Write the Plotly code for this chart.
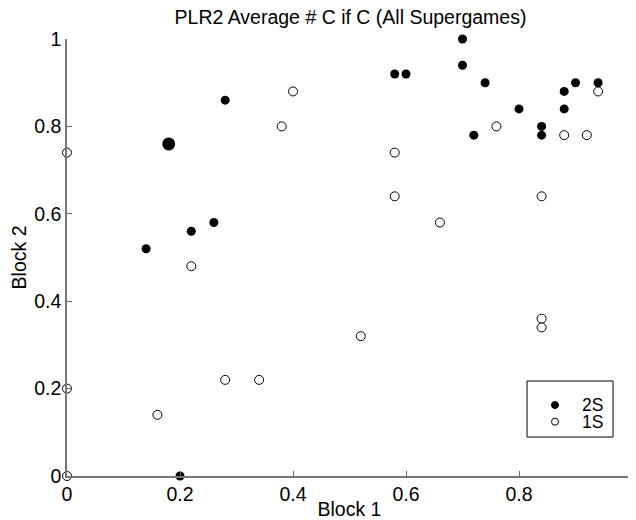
import plotly.graph_objects as go

# 2S (filled) series
x_2s = [0.14, 0.22, 0.26, 0.28, 0.20, 0.58, 0.60, 0.70, 0.70, 0.74, 0.72, 0.80, 0.84, 0.84, 0.88, 0.88, 0.90, 0.94]
y_2s = [0.52, 0.56, 0.58, 0.86, 0.00, 0.92, 0.92, 1.00, 0.94, 0.90, 0.78, 0.84, 0.80, 0.78, 0.88, 0.84, 0.90, 0.90]
# highlighted (large) 2S point
x_2s_big = [0.18]
y_2s_big = [0.76]

# 1S (open) series
x_1s = [0.00, 0.00, 0.00, 0.16, 0.22, 0.28, 0.34, 0.38, 0.40, 0.52, 0.58, 0.58, 0.66, 0.76, 0.84, 0.84, 0.84, 0.88, 0.92, 0.94]
y_1s = [0.74, 0.20, 0.00, 0.14, 0.48, 0.22, 0.22, 0.80, 0.88, 0.32, 0.74, 0.64, 0.58, 0.80, 0.64, 0.36, 0.34, 0.78, 0.78, 0.88]

tick_vals = [0, 0.2, 0.4, 0.6, 0.8, 1]
tick_text = ["0", "0.2", "0.4", "0.6", "0.8", "1"]
legend_names = ["2S", "1S"]

FONT = "Liberation Sans, Arial, sans-serif"
FS = 19.5
LFS = 17.5

fig = go.Figure()
fig.add_trace(go.Scatter(
    x=x_2s, y=y_2s, mode="markers", name=legend_names[0],
    marker=dict(color="black", size=9, line=dict(color="black", width=0)),
    cliponaxis=False,
))
fig.add_trace(go.Scatter(
    x=x_2s_big, y=y_2s_big, mode="markers", name=legend_names[0],
    marker=dict(color="black", size=13, line=dict(color="black", width=0)),
    cliponaxis=False,
))
fig.add_trace(go.Scatter(
    x=x_1s, y=y_1s, mode="markers", name=legend_names[1],
    marker=dict(color="white", size=9, line=dict(color="black", width=1)),
    cliponaxis=False,
))

axis_common = dict(
    range=[0, 1], tickvals=tick_vals, ticktext=tick_text,
    ticks="inside", ticklen=5, tickcolor="#666666", tickwidth=1,
    showline=True, linecolor="#777777", linewidth=1.5,
    showgrid=False, zeroline=False, mirror=False, automargin=False,
    tickfont=dict(family=FONT, size=FS, color="black"),
    title_font=dict(family=FONT, size=FS, color="black"),
)

# compact boxed legend (drawn as decoration in paper coordinates)
shapes = [
    dict(type="rect", xref="paper", yref="paper", x0=0.8142, x1=0.9664, y0=0.0892, y1=0.2174,
         line=dict(color="black", width=1), fillcolor="white", layer="above"),
    dict(type="circle", xref="paper", yref="paper", xsizemode="pixel", ysizemode="pixel",
         xanchor=0.8637, yanchor=0.1625, x0=-3.5, x1=3.5, y0=-3.5, y1=3.5,
         line=dict(color="black", width=1), fillcolor="black", layer="above"),
    dict(type="circle", xref="paper", yref="paper", xsizemode="pixel", ysizemode="pixel",
         xanchor=0.8637, yanchor=0.1243, x0=-3.5, x1=3.5, y0=-3.5, y1=3.5,
         line=dict(color="black", width=1), fillcolor="white", layer="above"),
]
annotations = [
    dict(text=legend_names[0], xref="paper", yref="paper", x=0.9080, y=0.1625,
         xanchor="left", yanchor="middle", showarrow=False,
         font=dict(family=FONT, size=LFS, color="black")),
    dict(text=legend_names[1], xref="paper", yref="paper", x=0.9080, y=0.1243,
         xanchor="left", yanchor="middle", showarrow=False,
         font=dict(family=FONT, size=LFS, color="black")),
]

# The page body adds an 8px margin, so the figure is 8px smaller on each axis
fig.update_layout(
    width=628, height=512,
    margin=dict(l=59, r=4, t=31, b=44),
    paper_bgcolor="white", plot_bgcolor="white",
    title=dict(text="PLR2 Average # C if C (All Supergames)", x=0.5454, xanchor="center",
               y=0.995, yanchor="top", pad=dict(t=0, b=0),
               font=dict(family=FONT, size=FS, color="black")),
    xaxis=dict(title=dict(text="Block 1"), **axis_common),
    yaxis=dict(title=dict(text="Block 2", standoff=4), **axis_common),
    shapes=shapes, annotations=annotations,
    showlegend=False,
)

fig.write_html("out.html")
